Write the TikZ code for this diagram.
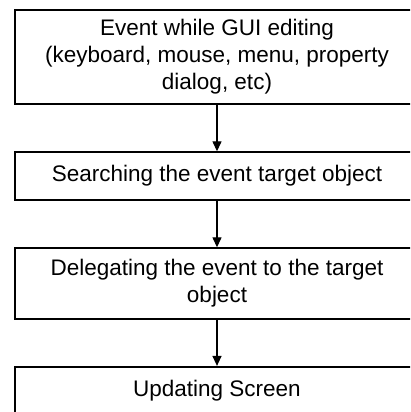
\documentclass[tikz,border=0pt]{standalone}
\usepackage{fontspec}
\setmainfont{Liberation Sans}
\usetikzlibrary{arrows.meta}
\begin{document}
\begin{tikzpicture}[x=1pt,y=-1pt,
  stepbox/.style={draw=black, line width=1.4pt, rectangle, minimum width=404pt,
    align=center, inner sep=0pt, font=\fontsize{22.5}{27}\selectfont},
  flow/.style={draw=black, line width=1.3pt, -{Triangle[length=10pt,width=9pt]}}]
\clip (0,0) rectangle (410,412);
\fill[white] (0,0) rectangle (410,412);
\node[stepbox, minimum height=94pt] (a) at (217,57) {Event while GUI editing\\(keyboard, mouse, menu, property\\dialog, etc)};
\node[stepbox, minimum height=48pt] (b) at (217,176) {Searching the event target object};
\node[stepbox, minimum height=71pt] (c) at (217,283.5) {Delegating the event to the target\\object};
\node[stepbox, line width=2.2pt, minimum height=48pt] (d) at (217,391) {Updating Screen};
\draw[flow] (a) -- (b);
\draw[flow] (b) -- (c);
\draw[flow] (c) -- (d);
\end{tikzpicture}
\end{document}
